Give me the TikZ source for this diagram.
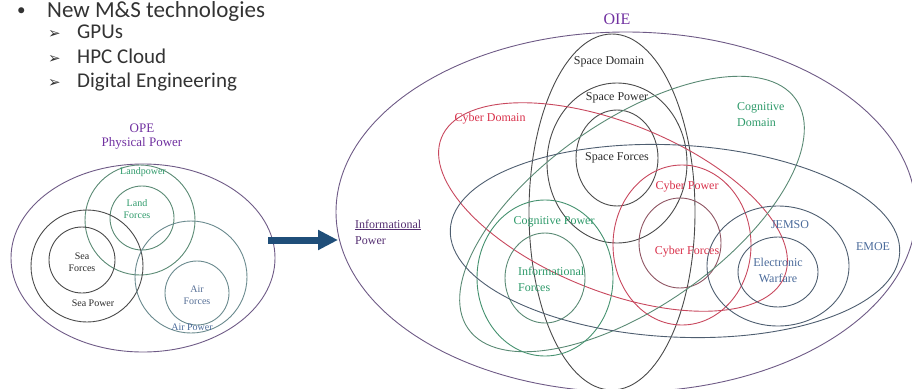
\documentclass[tikz,border=0pt]{standalone}
\usepackage{fontspec}
\setmainfont{Liberation Serif}
\newfontfamily\slidefont{Carlito}
\newfontfamily\dingfont{DejaVu Sans}
\usetikzlibrary{arrows.meta}
\definecolor{VennPurple}{HTML}{7030A0}
\definecolor{VennPurpleLine}{HTML}{6E5A86}
\definecolor{VennInk}{HTML}{2A2A2A}
\definecolor{VennGrey}{HTML}{4A4A4A}
\definecolor{VennGreen}{HTML}{2E9A6A}
\definecolor{VennGreenLine}{HTML}{5A8A74}
\definecolor{VennRed}{HTML}{D8304A}
\definecolor{VennRedLine}{HTML}{C8485E}
\definecolor{VennRedGrey}{HTML}{8E5462}
\definecolor{VennBlue}{HTML}{4A6A9A}
\definecolor{VennBlueLine}{HTML}{4E5E70}
\definecolor{VennAirLine}{HTML}{6A8A8E}
\definecolor{SlideText}{HTML}{333333}
\definecolor{ArrowNavy}{HTML}{1F4E79}
\tikzset{
  ring/.style={line width=0.9pt},
  purplering/.style={ring, draw=VennPurpleLine},
  greyring/.style={ring, draw=VennGrey},
  greenring/.style={ring, draw=VennGreenLine},
  redring/.style={ring, draw=VennRedLine},
  redgreyring/.style={ring, draw=VennRedGrey},
  bluering/.style={ring, draw=VennBlueLine},
  airring/.style={ring, draw=VennAirLine},
  lbl/.style={inner sep=0pt, align=center, font=\fontsize{12}{16}\selectfont},
  lblsmall/.style={inner sep=0pt, align=center, font=\fontsize{10}{12.5}\selectfont},
  bulletline/.style={inner sep=0pt, anchor=base west, text=SlideText, font=\slidefont\fontsize{21}{25}\selectfont},
  subtip/.style={bulletline, font=\dingfont\fontsize{15}{17}\selectfont},
  bigarrow/.style={-{Triangle[length=20pt,width=19pt]}, line width=7pt, draw=ArrowNavy},
}

\begin{document}
\begin{tikzpicture}[x=1pt,y=-1pt]
  \useasboundingbox (0,0) rectangle (912,388);

  % slide bullets
  \node[bulletline, font=\slidefont\fontsize{17}{20}\selectfont] (dot) at (17,16) {•};
  \node[bulletline, font=\slidefont\fontsize{23}{27}\selectfont] (newms) at (47,17) {New M\&S technologies};
  \node[subtip] (tipA) at (48,38) {➢};
  \node[bulletline] (gpus) at (77,38) {GPUs};
  \node[subtip] (tipB) at (48,63) {➢};
  \node[bulletline] (hpc) at (77,63) {HPC Cloud};
  \node[subtip] (tipC) at (48,87) {➢};
  \node[bulletline] (digeng) at (77,87) {Digital Engineering};

  % OPE
  \draw[purplering] (143,258) ellipse [x radius=132, y radius=94];
  \draw[greenring] (140,220) circle [radius=55];
  \draw[greenring] (142,218) circle [radius=32];
  \draw[greyring] (87,266) circle [radius=56];
  \draw[greyring] (82,260) circle [radius=33];
  \draw[airring] (191,277) circle [radius=56];
  \draw[airring] (197,293) circle [radius=32];

  \node[lbl, text=VennPurple, font=\fontsize{13}{15}\selectfont] (ope) at (142,128) {OPE};
  \node[lbl, text=VennPurple, font=\fontsize{13}{15}\selectfont] (physpow) at (142,143) {Physical Power};
  \node[lblsmall, text=VennGreen] (landpow) at (143,172) {Landpower};
  \node[lblsmall, text=VennGreen] (landfor) at (137,209) {Land\\Forces};
  \node[lblsmall, text=VennInk] (seafor) at (82,262) {Sea\\Forces};
  \node[lblsmall, text=VennInk] (seapow) at (93,303) {Sea Power};
  \node[lblsmall, text=VennBlue!80!gray] (airfor) at (197,295) {Air\\Forces};
  \node[lblsmall, text=VennBlue] (airpow) at (192,327) {Air Power};

  \coordinate (arrowtail) at (268,240);
  \coordinate (arrowhead) at (338,240);
  \draw[bigarrow] (arrowtail) -- (arrowhead);

  % OIE
  \draw[purplering] (626,212) ellipse [x radius=290, y radius=180];
  \draw[greyring] (612,212) ellipse [x radius=83, y radius=178];
  \draw[greyring] (617,163) ellipse [x radius=70, y radius=80];
  \draw[greyring] (617,158) ellipse [x radius=41, y radius=48];
  \draw[redring, rotate around={-22:(613,207)}] (613,207) ellipse [x radius=185, y radius=84];
  \draw[redring] (682,245) ellipse [x radius=69, y radius=80];
  \draw[redgreyring] (680,243) ellipse [x radius=41, y radius=45];
  \draw[greenring, rotate around={35:(632,214)}] (632,214) ellipse [x radius=200, y radius=93];
  \draw[greenring, draw=VennGreen!70!gray] (545,278) ellipse [x radius=68, y radius=78];
  \draw[greenring] (545,278) ellipse [x radius=40, y radius=45];
  \draw[bluering, rotate around={-3:(675,241)}] (675,241) ellipse [x radius=225, y radius=96];
  \draw[bluering] (778,266) ellipse [x radius=71, y radius=60];
  \draw[bluering] (778,272) ellipse [x radius=40, y radius=35];

  \node[lbl, text=VennPurple, font=\fontsize{16}{18}\selectfont] (oie) at (617,19) {OIE};
  \node[lbl, text=VennInk] (spacedom) at (609,62) {Space Domain};
  \node[lbl, text=VennInk] (spacepow) at (617,98) {Space Power};
  \node[lbl, text=VennInk] (spacefor) at (617,158) {Space Forces};
  \node[lbl, text=VennRed] (cyberdom) at (490,119) {Cyber Domain};
  \node[lbl, text=VennRed] (cyberpow) at (687,187) {Cyber Power};
  \node[lbl, text=VennRed] (cyberfor) at (687,252) {Cyber Forces};
  \node[lbl, text=VennGreen, align=left, anchor=west] (cogdom) at (737,115) {Cognitive\\Domain};
  \node[lbl, text=VennGreen] (cogpow) at (554,222) {Cognitive Power};
  \node[lbl, text=VennGreen, align=left, anchor=west] (infofor) at (518,279) {Informational\\Forces};
  \node[lbl, text=VennPurple!60!VennInk, align=left, anchor=west] (infopow) at (355,232) {\underline{Informational}\\Power};
  \node[lbl, text=VennBlue] (jemso) at (790,225) {JEMSO};
  \node[lbl, text=VennBlue] (emoe) at (873,247) {EMOE};
  \node[lbl, text=VennBlue] (ew) at (778,270) {Electronic\\Warfare};
\end{tikzpicture}
\end{document}
